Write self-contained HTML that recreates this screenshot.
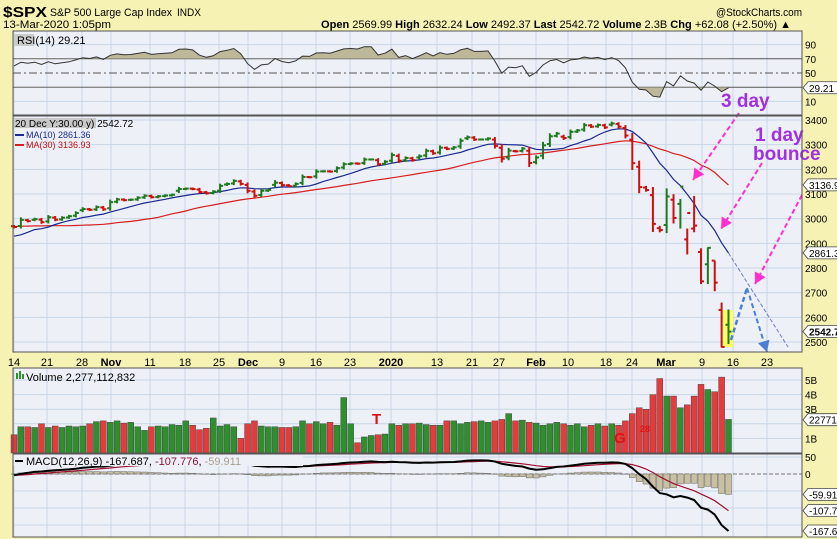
<!DOCTYPE html>
<html><head><meta charset="utf-8"><style>
html,body{margin:0;padding:0;background:#f6f2b4;}
svg{display:block;font-family:"Liberation Sans",sans-serif;}
</style></head><body>
<svg id="c" width="837" height="539" xmlns="http://www.w3.org/2000/svg"></svg>
<script>
var pre=[2906,2937,2976,2978,2979,2979,3000,3009,3007,2997,3005,3006,3007,2992,2991,2966,2984,3006,2977,2961,2976,2940,2887,2888,2952,2938,2893,2919,2938,2970];
var C=[2966,2995,2990,2998,2986,3006,2996,3004,3010,3023,3039,3036,3047,3038,
3067,3078,3075,3077,3085,3093,3087,3091,3094,3097,3120,3122,3120,3108,3103,3110,3133,3141,3153,3141,
3113,3093,3113,3117,3146,3136,3132,3141,3169,3168,3191,3192,3191,3205,3221,3224,3223,3240,3240,3221,3231,
3258,3235,3246,3237,3253,3275,3265,3288,3283,3289,3316,3330,3321,3321,3325,3295,3243,3276,3273,3284,3226,
3248,3297,3334,3345,3327,3352,3358,3379,3373,3380,3370,3386,3373,3337,3225,3128,3116,2979,2954,
3090,3003,3130,3023,2972,2746,2882,2741,2480,2542];
var V=[1.25,1.8,1.8,1.75,2.0,1.75,1.85,1.75,1.85,1.8,1.85,2.0,2.15,2.2,
2.1,2.2,2.05,2.1,1.8,1.55,1.8,1.85,1.8,1.95,1.9,2.2,1.9,1.6,1.7,2.4,1.85,1.95,1.8,1.0,
2.0,2.2,1.85,1.8,1.8,1.75,1.75,1.8,2.2,2.0,2.15,2.0,2.1,1.9,3.8,2.0,0.7,1.1,1.2,1.25,1.3,
2.0,1.9,2.0,2.0,2.05,1.95,1.9,1.9,2.2,2.2,2.0,2.1,2.15,2.2,2.1,2.2,2.3,2.7,2.2,2.25,2.1,
2.05,1.9,2.0,2.1,2.0,1.9,2.0,1.8,1.9,2.0,1.85,2.0,1.9,2.2,2.7,3.1,3.0,4.0,5.1,
3.9,3.9,3.1,3.3,3.9,4.7,4.35,4.2,5.2,2.3];
var all=pre.concat(C),P=pre.length,N=C.length;
function X(i){return 14+i*6.87;}
function Y(p){return 120+(3400-p)*0.2467;}
function RY(v){return 73-(v-50)*0.71;}
function VY(v){return 453-v*14.6;}
function MY(m){return 474-m*0.34;}
var s='';
function r(x,y,w,h,f,e){s+='<rect x="'+x+'" y="'+y+'" width="'+w+'" height="'+h+'" fill="'+f+'" '+(e||'')+'/>';}
function l(x1,y1,x2,y2,c,w,e){s+='<line x1="'+x1+'" y1="'+y1+'" x2="'+x2+'" y2="'+y2+'" stroke="'+c+'" stroke-width="'+(w||1)+'" '+(e||'')+'/>';}
function t(x,y,txt,sz,c,e){s+='<text x="'+x+'" y="'+y+'" font-size="'+sz+'" fill="'+(c||'#000')+'" '+(e||'')+'>'+txt+'</text>';}
function pl(pts,c,w,e){s+='<polyline fill="none" points="'+pts.map(function(p){return p[0].toFixed(1)+','+p[1].toFixed(1)}).join(' ')+'" stroke="'+c+'" stroke-width="'+(w||1)+'" '+(e||'')+'/>';}
var bg='#eef0f8',gc='#c6d6e6';
r(13,31,789,84,bg);r(13,116,789,236,bg);r(13,368,789,85,bg);r(13,454,789,83,bg);
var dl=[[14,'14'],[47,'21'],[82,'28'],[111,'Nov',1],[150,'11'],[185,'18'],[219,'25'],[248,'Dec',1],[282,'9'],[316,'16'],[350,'23'],[391,'2020',1],[437,'13'],[472,'21'],[499,'27'],[536,'Feb',1],[568,'10'],[606,'18'],[632,'24'],[666,'Mar',1],[702,'9'],[733,'16'],[767,'23']];
dl.forEach(function(d){[[31,115],[116,352],[368,453],[454,537]].forEach(function(b){l(d[0],b[0],d[0],b[1],gc,1);});
 t(d[0],366,d[1],11,'#000','text-anchor="middle"'+(d[2]?' font-weight="bold"':''));});
for(var p=2500;p<=3400;p+=100){l(13,Y(p),802,Y(p),gc);t(805,Y(p)+4,p,10);}
[90,10].forEach(function(v){l(13,RY(v),802,RY(v),gc);t(805,RY(v)+4,v,10);});
l(13,RY(70),802,RY(70),'#555');l(13,RY(30),802,RY(30),'#555');l(13,RY(50),802,RY(50),'#555',1,'stroke-dasharray="8,3,2,3"');
t(805,RY(70)+4,70,10);t(805,RY(50)+4,50,10);
[1,2,3,4,5].forEach(function(v){l(13,VY(v),802,VY(v),gc);if(v!=2)t(805,VY(v)+4,v+'B',10);});
[50,-50,-100,-150].forEach(function(v){l(13,MY(v),802,MY(v),gc);});
t(805,MY(50)+4,'50',10);t(805,MY(0)+4,'0',10);
var g=0,ls=0,rsi=[];
for(var i=1;i<all.length;i++){var d=all[i]-all[i-1];var up=Math.max(d,0),dn=Math.max(-d,0);
 if(i<=14){g+=up/14;ls+=dn/14;}else{g=(g*13+up)/14;ls=(ls*13+dn)/14;}
 rsi[i]=100-100/(1+g/(ls||1e-9));}
var rp=[];for(i=0;i<N;i++){var rv=50+(rsi[i+P]-50)*1.2+3;if(i==N-1)rv=29.21;rp.push([X(i),RY(rv)]);}
s+='<clipPath id="a70"><rect x="13" y="31" width="789" height="'+(RY(70)-31)+'"/></clipPath><clipPath id="b30"><rect x="13" y="'+RY(30)+'" width="789" height="'+(115-RY(30))+'"/></clipPath>';
var poly=function(ref){return rp.map(function(p){return p[0].toFixed(1)+','+p[1].toFixed(1)}).join(' ')+' '+rp[N-1][0]+','+ref+' '+rp[0][0]+','+ref;};
s+='<polygon points="'+poly(RY(70))+'" fill="#bdb89a" clip-path="url(#a70)"/>';
s+='<polygon points="'+poly(RY(30))+'" fill="#bdb89a" clip-path="url(#b30)"/>';
pl(rp,'#333',1);
function ma(n){var o=[];for(var i=0;i<N;i++){var k=i+P,sm=0;for(var j=k-n+1;j<=k;j++)sm+=all[j];o.push([X(i),Y(sm/n)]);}return o;}
var m30=ma(30),m10=ma(10);
pl(m30,'#d42020',1.2);pl(m10,'#1a2a90',1.2);
l(m10[N-1][0],m10[N-1][1],788,347,'#6a7ac0',1,'stroke-dasharray="4,2"');
r(723,310,10,37,'#ffff60');
var nd=[];
for(i=0;i<N;i++){var c=C[i],pc=all[i+P-1];var o=(i%7==3)?c-(c-pc)*0.3:pc+(c-pc)*0.15;var rg=Math.abs(c-pc)*0.35+7;
 var h=Math.max(o,c)+rg*0.6,lo=Math.min(o,c)-rg*0.6;
 if(i==104){o=2570;h=2632;lo=2492;}if(i==103){o=2630;h=2660;lo=2478;}if(i==97){o=3060;h=3080;lo=2960;}if(i==98){o=2916;h=2960;lo=2855;}
 if(i==99){o=2960;h=3092;lo=2945;}if(i==100){o=2865;h=2880;lo=2735;}if(i==101){o=2815;h=2884;lo=2735;}if(i==102){o=2830;h=2830;lo=2706;}
 var col=c>=pc?'#1e7a1e':'#cc1010';nd.push(col);
 var x=X(i);l(x,Y(h),x,Y(lo),col,2);l(x-3,Y(o),x,Y(o),col,2);l(x,Y(c),x+3,Y(c),col,2);}
for(i=0;i<N;i++){var x=X(i);var col=nd[i]=='#1e7a1e'?'#2f8f2f':'#e43c3c';r(x-3,VY(V[i]),6,453-VY(V[i]),col,'stroke="#333" stroke-width="0.4"');}
t(372,424,'T',15,'#e01010','font-weight="bold"');t(614,443,'G',15,'#e01010','font-weight="bold"');t(640,432,'28',9,'#e01010','font-weight="bold"');
function ema(a,n){var k=2/(n+1),o=[a[0]];for(var i=1;i<a.length;i++)o.push(a[i]*k+o[i-1]*(1-k));return o;}
var e12=ema(all,12),e26=ema(all,26),mac=e12.map(function(v,i){return v-e26[i];}),sig=ema(mac,9);
l(13,MY(0),802,MY(0),'#777',1,'stroke-dasharray="4,2"');
for(i=0;i<N;i++){var h2=mac[i+P]-sig[i+P];var y0=MY(0),y1=MY(h2);r(X(i)-3,Math.min(y0,y1),6,Math.abs(y1-y0),'#c8c0a0','stroke="#666" stroke-width="0.5"');}
var mp=[],sp=[];for(i=0;i<N;i++){mp.push([X(i),MY(mac[i+P])]);sp.push([X(i),MY(sig[i+P])]);}
pl(sp,'#a01030',1.2);pl(mp,'#000',2);
r(14,34,20,12,'#ccc');t(17,44,'RSI(14) 29.21',11,'#000');
r(14,118,82,10,'#c8c8c8');t(15,127,'20 Dec Y:30.00 y) 2542.72',10,'#000');
l(15,135,24,135,'#1a2a90',2);t(26,138,'MA(10) 2861.36',9,'#1a2a90');
l(15,145,24,145,'#d42020',2);t(26,148,'MA(30) 3136.93',9,'#c01010');
r(13,454,290,12,bg);
r(16,373,2,6,'#2f8f2f');r(19,371,2,8,'#2f8f2f');r(22,374,2,5,'#2f8f2f');t(26,381,'Volume 2,277,112,832',11);
l(15,461,23,461,'#000',2);t(26,465,'MACD(12,26,9) -167.687, <tspan fill="#8b1030">-107.776</tspan>, <tspan fill="#a8a090">-59.911</tspan>',11);
function vb(y,txt,b){s+='<path d="M803,'+y+' l5,-6 h30 v12 h-30 z" fill="#fff" stroke="#444" stroke-width="0.8"/>';t(809,y+4,txt,10,'#000',b?'font-weight="bold"':'');}
vb(RY(29.21),'29.21');vb(Y(3136.9),'3136.9');vb(Y(2861.3),'2861.3');vb(Y(2542.7),'2542.7',1);vb(VY(2.28),'227711');
vb(MY(-59.9),'-59.91');vb(MY(-107.8),'-107.7');vb(MY(-167.7),'-167.6');
function arr(x1,y1,x2,y2,c){l(x1,y1,x2,y2,c,2,'stroke-dasharray="5,3"');var a=Math.atan2(y2-y1,x2-x1),L=11,W=6;
 var bx=x2-L*Math.cos(a),by=y2-L*Math.sin(a);s+='<polygon points="'+x2+','+y2+' '+(bx+W*Math.sin(a))+','+(by-W*Math.cos(a))+' '+(bx-W*Math.sin(a))+','+(by+W*Math.cos(a))+'" fill="'+c+'"/>';}
arr(739,113,693,180,'#ff30d0');arr(762,163,721,229,'#ff30d0');arr(802,195,755,284,'#ff30d0');
l(731,340,747,288,'#4a7fd4',2.5,'stroke-dasharray="5,3"');arr(747,288,767,352,'#4a7fd4');
t(721,107,'3 day',19,'#a030e0','font-weight="bold"');
t(755,141,'1 day',19,'#a030e0','font-weight="bold"');t(753,160,'bounce',19,'#a030e0','font-weight="bold"');
[[31,115],[116,352],[368,453],[454,537]].forEach(function(b){r(13,b[0],789,b[1]-b[0],'none','stroke="#555" stroke-width="1"');});
t(3,17,'$SPX',15,'#000','font-weight="bold" textLength="44" lengthAdjust="spacingAndGlyphs"');
t(50,16,'S&amp;P 500 Large Cap Index',11,'#000','textLength="122" lengthAdjust="spacingAndGlyphs"');
t(177,16,'INDX',11,'#000','textLength="24" lengthAdjust="spacingAndGlyphs"');
t(716,16,'@StockCharts.com',11,'#000','textLength="86" lengthAdjust="spacingAndGlyphs"');
t(3,28,'13-Mar-2020 1:05pm',11,'#000','textLength="108" lengthAdjust="spacingAndGlyphs"');
t(321,28,'<tspan font-weight="bold">Open</tspan> 2569.99 <tspan font-weight="bold">High</tspan> 2632.24 <tspan font-weight="bold">Low</tspan> 2492.37 <tspan font-weight="bold">Last</tspan> 2542.72 <tspan font-weight="bold">Volume</tspan> 2.3B <tspan font-weight="bold">Chg</tspan> +62.08 (+2.50%) ▲',11,'#000','textLength="470" lengthAdjust="spacingAndGlyphs"');
document.getElementById('c').innerHTML=s;
</script>
</body></html>
